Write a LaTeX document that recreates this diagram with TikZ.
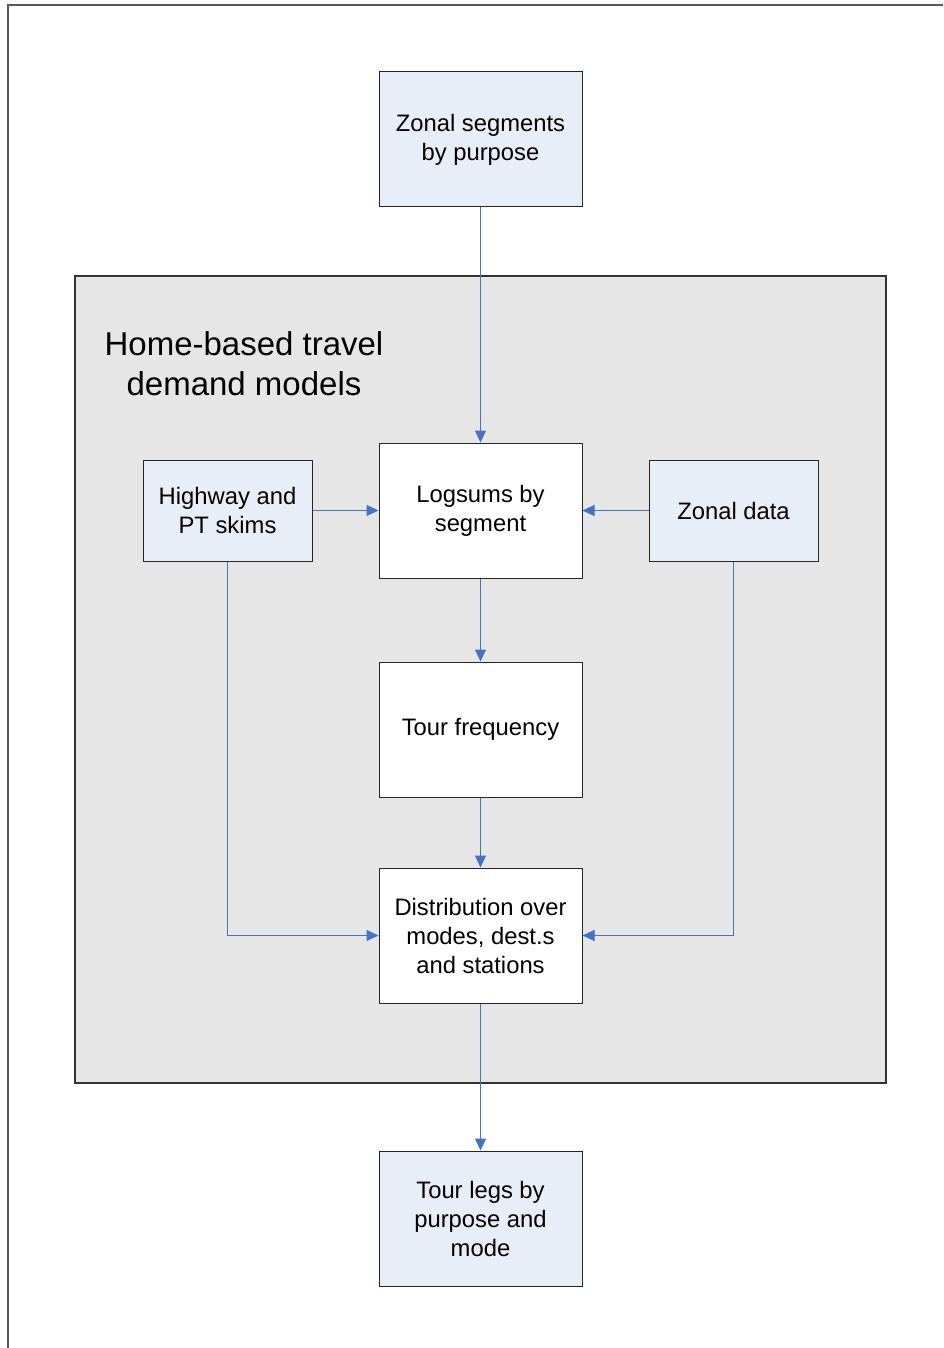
\documentclass[tikz,border=0pt]{standalone}
\usepackage{fontspec}
\setmainfont{Liberation Sans}
\usetikzlibrary{arrows.meta}
\definecolor{boxblue}{RGB}{232,238,247}
\definecolor{panelgrey}{RGB}{230,230,230}
\definecolor{linkblue}{RGB}{68,114,196}
\definecolor{framegrey}{RGB}{90,90,90}
\begin{document}
\begin{tikzpicture}[x=1pt,y=-1pt,
  boxtext/.style={font=\fontsize{23.8}{29}\selectfont},
  bigbox/.style={boxtext,draw=black!85,line width=1pt,minimum width=203pt,minimum height=135pt,align=center,inner sep=0pt},
  smallbox/.style={boxtext,draw=black!85,line width=1pt,minimum width=169pt,minimum height=101pt,align=center,inner sep=0pt},
  inputbox/.style={fill=boxblue},
  modelbox/.style={fill=white},
  link/.style={draw=linkblue,line width=1pt,-{Triangle[length=12pt,width=11pt]}}
]
\useasboundingbox (0,0) rectangle (943,1348);

% page frame (top and left edges)
\draw[framegrey,line width=2pt] (943,5) -- (8,5) -- (8,1348);

% grey panel holding the home-based models
\draw[black!80,line width=1.3pt,fill=panelgrey] (75,276) rectangle (886,1083);
\node[align=center,font=\fontsize{33}{40}\selectfont] (title) at (244,364) {Home-based travel\\demand models};

% boxes
\node[bigbox,inputbox] (seg) at (480.5,139.5) {Zonal segments\\by purpose};
\node[bigbox,modelbox] (logsum) at (480.5,510.5) {Logsums by\\segment};
\node[smallbox,inputbox] (skims) at (227.5,510.5) {Highway and\\PT skims};
\node[smallbox,inputbox] (zonal) at (733.5,510.5) {Zonal data};
\node[bigbox,modelbox] (freq) at (480.5,729.5) {Tour frequency};
\node[bigbox,modelbox] (dist) at (480.5,935.5) {Distribution over\\modes, dest.s\\and stations};
\node[bigbox,inputbox] (legs) at (480.5,1218.5) {Tour legs by\\purpose and\\mode};

% connectors
\draw[link] (seg.south) -- (logsum.north);
\draw[link] (skims.east) -- (logsum.west);
\draw[link] (zonal.west) -- (logsum.east);
\draw[link] (logsum.south) -- (freq.north);
\draw[link] (freq.south) -- (dist.north);
\draw[link] (skims.south) |- (dist.west);
\draw[link] (zonal.south) |- (dist.east);
\draw[link] (dist.south) -- (legs.north);
\end{tikzpicture}
\end{document}
